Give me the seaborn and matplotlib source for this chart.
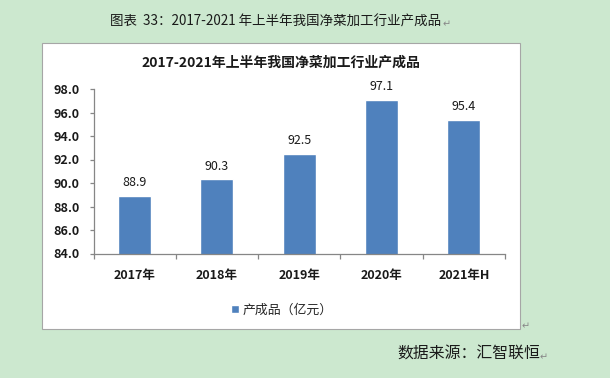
import matplotlib
matplotlib.use("Agg")
import matplotlib.pyplot as plt
import seaborn as sns
import pandas as pd
from matplotlib.patches import Rectangle, Patch

# data
years = ["2017年", "2018年", "2019年", "2020年", "2021年H"]
output_value = [88.9, 90.3, 92.5, 97.1, 95.4]
series_name = "产成品（亿元）"
chart_title = "2017-2021年上半年我国净菜加工行业产成品"
caption = "图表  33：2017-2021 年上半年我国净菜加工行业产成品"
source = "数据来源：汇智联恒"

W, H = 610, 378
BG = "#CCE8CF"
BAR = "#4F81BD"
AXIS = "#868686"

sns.set_theme(style="white")
plt.rcParams["font.family"] = ["Noto Sans CJK SC", "DejaVu Sans"]


def fx(px):
    return px / W


def fy(py):
    return 1 - py / H


df = pd.DataFrame({"year": years, "value": output_value})

fig = plt.figure(figsize=(W / 100, H / 100), dpi=100, facecolor=BG)

# white chart box with thin grey border
box = Rectangle((fx(41.5), fy(329)), fx(520) - fx(41.5), fy(43) - fy(329),
                transform=fig.transFigure, facecolor="white",
                edgecolor="#A6A6A6", linewidth=0.8, zorder=-5)
fig.patches.append(box)

ax = fig.add_axes([fx(93.5), fy(253.5), fx(505) - fx(93.5), fy(89) - fy(253.5)])
ax.set_zorder(5)
ax.set_facecolor("white")
sns.barplot(data=df, x="year", y="value", color=BAR, width=0.4, saturation=1, ax=ax)

ax.set_ylim(84, 98)
ax.set_yticks([84 + 2 * i for i in range(8)])
ax.set_yticklabels([f"{84 + 2 * i:.1f}" for i in range(8)])
ax.set_xlim(-0.5, len(years) - 0.5)
ax.set_xlabel("")
ax.set_ylabel("")

for s in ["top", "right"]:
    ax.spines[s].set_visible(False)
for s in ["left", "bottom"]:
    ax.spines[s].set_color(AXIS)
    ax.spines[s].set_linewidth(0.9)

ax.tick_params(axis="y", which="major", direction="out", length=3, width=0.9,
               color=AXIS, left=True, labelsize=9, pad=7)
ax.tick_params(axis="x", which="major", length=0, labelsize=9, pad=11)
ax.set_xticks([i - 0.5 for i in range(len(years) + 1)], minor=True)
ax.tick_params(axis="x", which="minor", direction="out", length=3.5, width=0.9,
               color=AXIS, bottom=True)
for lab in ax.get_xticklabels() + ax.get_yticklabels():
    lab.set_fontweight("bold")
    lab.set_color("#1A1A1A")

for i, v in enumerate(output_value):
    ax.annotate(f"{v:.1f}", (i, v), xytext=(0, 5), textcoords="offset points",
                ha="center", va="bottom", fontsize=9, color="#1A1A1A")

fig.text(fx(280.5), fy(63), chart_title, ha="center", va="center",
         fontsize=10, fontweight="bold", color="#1A1A1A")

fig.legend(handles=[Patch(facecolor=BAR, label=series_name)], loc="center",
           bbox_to_anchor=(fx(282), fy(310)), frameon=False, fontsize=9.3,
           handlelength=0.6, handleheight=0.6, handletextpad=0.3)

fig.text(fx(110), fy(22), caption, ha="left", va="center", fontsize=9.7, color="#1A1A1A")
fig.text(fx(443), fy(24), "↵", ha="left", va="center", fontsize=7, color="#888888")
fig.text(fx(397), fy(354), source, ha="left", va="center", fontsize=11.4, color="#1A1A1A")
fig.text(fx(540), fy(357), "↵", ha="left", va="center", fontsize=7, color="#888888")
fig.text(fx(522), fy(326), "↵", ha="left", va="center", fontsize=7, color="#888888")

fig.savefig("out.png", dpi=100, facecolor=BG)
